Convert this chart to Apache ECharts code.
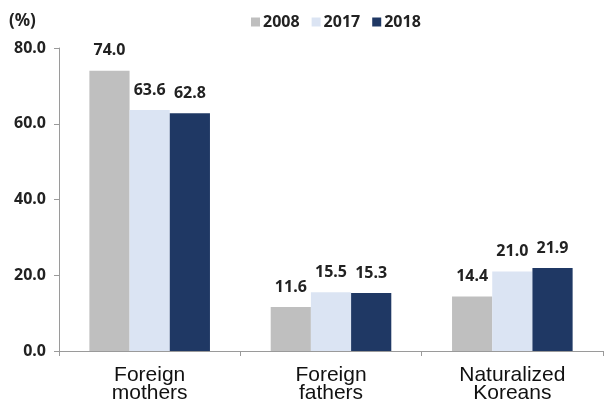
<!DOCTYPE html>
<html><head><meta charset="utf-8">
<script src="https://cdn.jsdelivr.net/npm/echarts@6/dist/echarts.min.js"></script>
<style>html,body{margin:0;padding:0;background:#fff}#c{width:606px;height:404px}</style>
</head><body><div id="c"></div>
<script>
const categories = ['Foreign\nmothers', 'Foreign\nfathers', 'Naturalized\nKoreans'];
const seriesNames = ['2008', '2017', '2018'];
const v2008 = [74.0, 11.6, 14.4];
const v2017 = [63.6, 15.5, 21.0];
const v2018 = [62.8, 15.3, 21.9];
const colors = ['#BFBFBF', '#DBE4F3', '#1F3864'];
const yTicks = [0, 20, 40, 60, 80];

const chart = echarts.init(document.getElementById('c'));
const lblFont = '"Noto Sans", "DejaVu Sans", sans-serif';
function mk(name, data, color) {
  return {
    name, type: 'bar', data, barGap: 0, barCategoryGap: '33.5%',
    itemStyle: { color },
    label: { show: true, position: 'top', distance: 12, formatter: p => p.value.toFixed(1),
      fontFamily: lblFont, fontWeight: 'bold', fontSize: 16, color: '#222' }
  };
}
chart.setOption({
  animation: false,
  grid: { left: 59, right: 3, top: 48, bottom: 53, containLabel: false },
  title: { text: '(%)', left: 4, top: 8, textStyle: { fontFamily: lblFont, fontWeight: 'bold', fontSize: 17, color: '#222' } },
  legend: {
    data: seriesNames, top: 9, left: 246, itemWidth: 9, itemHeight: 9, itemGap: 12,
    icon: 'rect', textStyle: { fontFamily: lblFont, fontWeight: 'bold', fontSize: 16, color: '#222', padding: [0,0,0,-2] }
  },
  xAxis: {
    type: 'category', data: categories,
    axisLine: { lineStyle: { color: '#9a9a9a', width: 1 } },
    axisTick: { show: true, length: 5, lineStyle: { color: '#9a9a9a' } },
    axisLabel: { fontFamily: '"Liberation Sans", Arial, sans-serif', fontSize: 21, color: '#111', lineHeight: 18, margin: 15 }
  },
  yAxis: {
    type: 'value', min: yTicks[0], max: yTicks[yTicks.length - 1], interval: 20,
    axisLine: { show: true, lineStyle: { color: '#9a9a9a' } },
    axisTick: { show: true, length: 5, lineStyle: { color: '#9a9a9a' } },
    splitLine: { show: false },
    axisLabel: { formatter: v => v.toFixed(1), fontFamily: lblFont, fontWeight: 'bold', fontSize: 16, color: '#222', margin: 13 }
  },
  series: [mk(seriesNames[0], v2008, colors[0]), mk(seriesNames[1], v2017, colors[1]), mk(seriesNames[2], v2018, colors[2])]
});
</script></body></html>
